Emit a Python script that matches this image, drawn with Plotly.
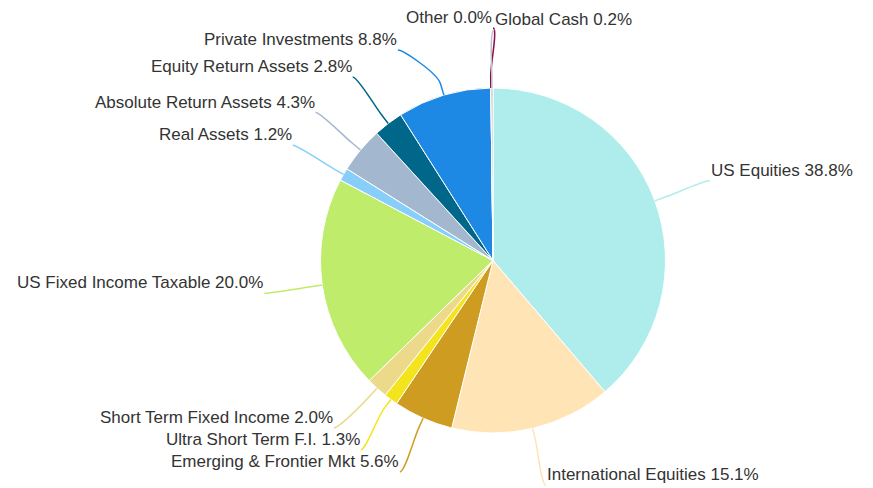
import math
import plotly.graph_objects as go

# ---- data ----
labels = ["US Equities", "International Equities", "Emerging & Frontier Mkt",
          "Ultra Short Term F.I.", "Short Term Fixed Income", "US Fixed Income Taxable",
          "Real Assets", "Absolute Return Assets", "Equity Return Assets",
          "Private Investments", "Other", "Global Cash"]
values = [38.8, 15.1, 5.6, 1.3, 2.0, 20.0, 1.2, 4.3, 2.8, 8.8, 0.0, 0.2]
colors = ["#afeded", "#ffe4b6", "#cf9c22", "#f4e41e", "#ecd98a", "#bfec6b",
          "#87cefa", "#a3b8cf", "#00668a", "#1e88e5", "#8b0a55", "#c0c0c0"]

# ---- layout constants (page pixels) ----
PAGE_W, PAGE_H = 873, 488
OFF = 8                                  # default body margin of the html page
W, H = PAGE_W - OFF, PAGE_H - OFF
CX, CY, R = 493, 260.5, 172.5           # pie centre / radius in page px
LABEL_DIST = 58.5
BOX = 22
TOP, BOTTOM = 28, 487
FONT = dict(family="Liberation Sans, Arial, sans-serif", size=17, color="#333333")

def px(x, y):
    return (x - OFF) / W, 1 - (y - OFF) / H

x0, y0 = px(CX - R, CY + R)
x1, y1 = px(CX + R, CY - R)
fig = go.Figure(go.Pie(
    labels=labels, values=values, sort=False, direction="clockwise", rotation=0,
    marker=dict(colors=colors, line=dict(color="#ffffff", width=1)),
    textinfo="none", showlegend=False,
    domain=dict(x=[x0, x1], y=[y0, y1]),
))

# ---- label geometry computed from values ----
total = sum(values)
cum = 0
pts = []
RL = R + LABEL_DIST
for i, v in enumerate(values):
    mid = (cum + v / 2) / total * 2 * math.pi
    cum += v
    deg = math.degrees(mid)
    side = "right" if (deg < 180 or deg > 359.5) else "left"
    pts.append(dict(i=i, a=mid, side=side, target=CY - RL * math.cos(mid)))

def distribute(items):
    items = sorted(items, key=lambda p: p["target"])
    groups = []
    for p in items:
        groups.append(dict(items=[p], pos=min(max(p["target"], TOP), BOTTOM)))
        while len(groups) > 1:
            g1, g2 = groups[-2], groups[-1]
            if g1["pos"] + len(g1["items"]) * BOX > g2["pos"]:
                its = g1["items"] + g2["items"]
                pos = sum(q["target"] - k * BOX for k, q in enumerate(its)) / len(its)
                pos = min(max(pos, TOP), BOTTOM - (len(its) - 1) * BOX)
                groups[-2:] = [dict(items=its, pos=pos)]
            else:
                break
    for g in groups:
        for k, q in enumerate(g["items"]):
            q["y"] = g["pos"] + k * BOX

distribute([p for p in pts if p["side"] == "left"])
distribute([p for p in pts if p["side"] == "right"])

shapes, annotations = [], []
for p in pts:
    i, a = p["i"], p["a"]
    dy = p["y"] - CY
    dx = math.sqrt(max(RL * RL - dy * dy, 0))
    lx = CX + dx if p["side"] == "right" else CX - dx
    ly = p["y"]
    tx, ty = CX + R * math.sin(a), CY - R * math.cos(a)
    off = LABEL_DIST / 5
    bx, by = CX + (R + off) * math.sin(a), CY - (R + off) * math.cos(a)
    c1x = lx + (-5 if p["side"] == "right" else 5)
    c2x, c2y = 2 * bx - tx, 2 * by - ty
    P = [px(lx, ly), px(c1x, ly), px(c2x, c2y), px(bx, by), px(tx, ty)]
    path = "M{:.5f},{:.5f} C{:.5f},{:.5f} {:.5f},{:.5f} {:.5f},{:.5f} L{:.5f},{:.5f}".format(
        *[c for pt in P for c in pt])
    shapes.append(dict(type="path", xref="paper", yref="paper", path=path,
                       line=dict(color=colors[i], width=1.5), layer="above"))
    ax, ay = px(lx, ly - 10.5)
    annotations.append(dict(
        x=ax, y=ay, xref="paper", yref="paper", showarrow=False, borderpad=0,
        text=f"{labels[i]} {values[i]:.1f}%", font=FONT,
        xanchor="left" if p["side"] == "right" else "right", yanchor="middle"))

fig.update_layout(width=W, height=H, margin=dict(l=0, r=0, t=0, b=0),
                  paper_bgcolor="white", plot_bgcolor="white",
                  shapes=shapes, annotations=annotations)
fig.write_html("out.html")
